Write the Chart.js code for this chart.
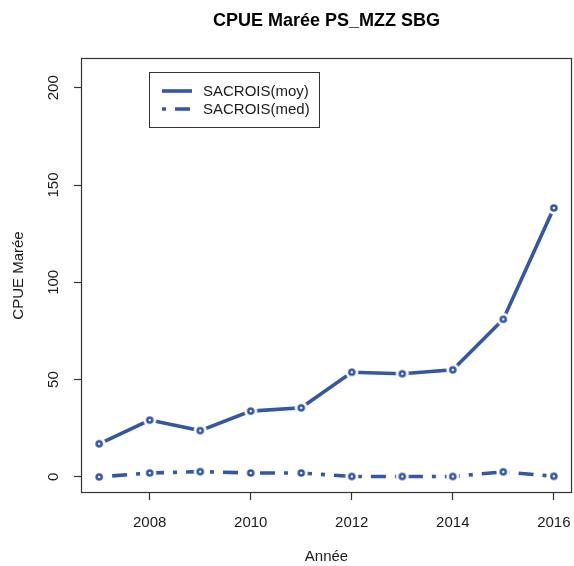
<!DOCTYPE html>
<html>
<head>
<meta charset="utf-8">
<script src="https://cdn.jsdelivr.net/npm/chart.js@4"></script>
<style>
  html, body { margin: 0; padding: 0; background: #fff; }
  canvas { display: block; }
</style>
</head>
<body>
<canvas id="c" width="574" height="566"></canvas>
<script>
// ---- data ----
const YEARS = [2007, 2008, 2009, 2010, 2011, 2012, 2013, 2014, 2015, 2016];
const MOY = [17.0, 29.2, 23.8, 33.8, 35.5, 53.8, 53.0, 55.0, 81.0, 138.2];
const MED = [0.0, 2.0, 2.7, 2.0, 2.0, 0.2, 0.2, 0.2, 2.6, 0.3];
const SERIES_LABELS = ['SACROIS(moy)', 'SACROIS(med)'];
const X_TICKS = [2008, 2010, 2012, 2014, 2016];
const Y_TICKS = [0, 50, 100, 150, 200];
const TITLE = 'CPUE Marée PS_MZZ SBG';
const X_TITLE = 'Année';
const Y_TITLE = 'CPUE Marée';

// ---- styles ----
const BLUE = '#3456a6';
const FONT = '"Liberation Sans", Arial, sans-serif';
const TXT = '#1a1a1a';

function makePoint(color) {
  const c = document.createElement('canvas');
  c.width = 16; c.height = 16;
  const g = c.getContext('2d');
  g.fillStyle = '#fff';
  g.beginPath(); g.arc(8, 8, 6.5, 0, 2 * Math.PI); g.fill();
  g.strokeStyle = color; g.lineWidth = 2.6;
  g.beginPath(); g.arc(8, 8, 2.5, 0, 2 * Math.PI); g.stroke();
  return c;
}
const PT = makePoint(BLUE);

const boxPlugin = {
  id: 'plotBox',
  beforeDatasetsDraw(chart) {
    const a = chart.chartArea, ctx = chart.ctx;
    ctx.save();
    ctx.strokeStyle = '#333';
    ctx.lineWidth = 1.2;
    ctx.strokeRect(Math.round(a.left) + 0.5, Math.round(a.top) + 0.5,
      Math.round(a.right - a.left) - 1, Math.round(a.bottom - a.top) - 1);
    ctx.restore();
  }
};

const legendPlugin = {
  id: 'boxLegend',
  afterDraw(chart) {
    const ctx = chart.ctx;
    ctx.save();
    ctx.strokeStyle = '#333';
    ctx.lineWidth = 1;
    ctx.strokeRect(149.5, 72.5, 170, 55);
    chart.data.datasets.forEach((ds, i) => {
      const y = 91 + i * 18;
      ctx.beginPath();
      ctx.setLineDash(ds.borderDash || []);
      ctx.lineWidth = ds.borderWidth;
      ctx.strokeStyle = ds.borderColor;
      ctx.lineCap = 'butt';
      ctx.moveTo(162, y); ctx.lineTo(192, y);
      ctx.stroke();
      ctx.setLineDash([]);
      ctx.fillStyle = TXT;
      ctx.font = '15px ' + FONT;
      ctx.textBaseline = 'middle';
      ctx.textAlign = 'left';
      ctx.fillText(ds.label, 203, y + 1);
    });
    ctx.restore();
  }
};

const toXY = (vals) => YEARS.map((x, i) => ({ x: x, y: vals[i] }));

new Chart(document.getElementById('c'), {
  type: 'line',
  data: {
    datasets: [
      {
        label: SERIES_LABELS[0],
        data: toXY(MOY),
        borderColor: BLUE,
        borderWidth: 3.6,
        borderCapStyle: 'butt',
        pointStyle: PT,
        pointRadius: 3,
        pointHoverRadius: 3,
        fill: false,
        tension: 0
      },
      {
        label: SERIES_LABELS[1],
        data: toXY(MED),
        borderColor: BLUE,
        borderWidth: 3.6,
        borderDash: [4, 9, 15, 9],
        borderCapStyle: 'butt',
        pointStyle: PT,
        pointRadius: 3,
        pointHoverRadius: 3,
        fill: false,
        tension: 0
      }
    ]
  },
  options: {
    responsive: false,
    animation: false,
    events: [],
    layout: { autoPadding: false, padding: { left: 0, right: 2, top: 0, bottom: 0 } },
    plugins: {
      legend: { display: false },
      tooltip: { enabled: false },
      title: {
        display: true,
        text: TITLE,
        fullSize: false,
        color: '#000',
        font: { family: FONT, size: 18, weight: 'bold' },
        padding: { top: 10, bottom: 26.4 }
      }
    },
    scales: {
      x: {
        type: 'linear',
        min: 2006.64,
        max: 2016.36,
        afterFit: (s) => { s.height = 73; s.paddingLeft = 0; s.paddingRight = 0; },
        afterBuildTicks: (s) => { s.ticks = X_TICKS.map(v => ({ value: v })); },
        grid: { drawOnChartArea: false, drawTicks: true, tickLength: 7, tickColor: '#333', tickWidth: 1.2 },
        border: { display: false },
        ticks: {
          color: TXT,
          font: { family: FONT, size: 15 },
          padding: 14,
          maxRotation: 0,
          autoSkip: false,
          callback: (v) => String(v)
        },
        title: {
          display: true,
          text: X_TITLE,
          color: TXT,
          font: { family: FONT, size: 15 },
          padding: { top: 0, bottom: 0 }
        }
      },
      y: {
        type: 'linear',
        min: -8.28,
        max: 215.28,
        afterFit: (s) => { s.width = 81; s.paddingTop = 0; s.paddingBottom = 0; },
        afterBuildTicks: (s) => { s.ticks = Y_TICKS.map(v => ({ value: v })); },
        grid: { drawOnChartArea: false, drawTicks: true, tickLength: 7, tickColor: '#333', tickWidth: 1.2 },
        border: { display: false },
        ticks: {
          color: TXT,
          font: { family: FONT, size: 15 },
          minRotation: 90,
          maxRotation: 90,
          crossAlign: 'center',
          padding: 7.5,
          autoSkip: false,
          callback: (v) => String(v)
        },
        title: {
          display: true,
          text: Y_TITLE,
          color: TXT,
          font: { family: FONT, size: 15 },
          padding: { top: 10, bottom: 0 }
        }
      }
    }
  },
  plugins: [boxPlugin, legendPlugin]
});
</script>
</body>
</html>
